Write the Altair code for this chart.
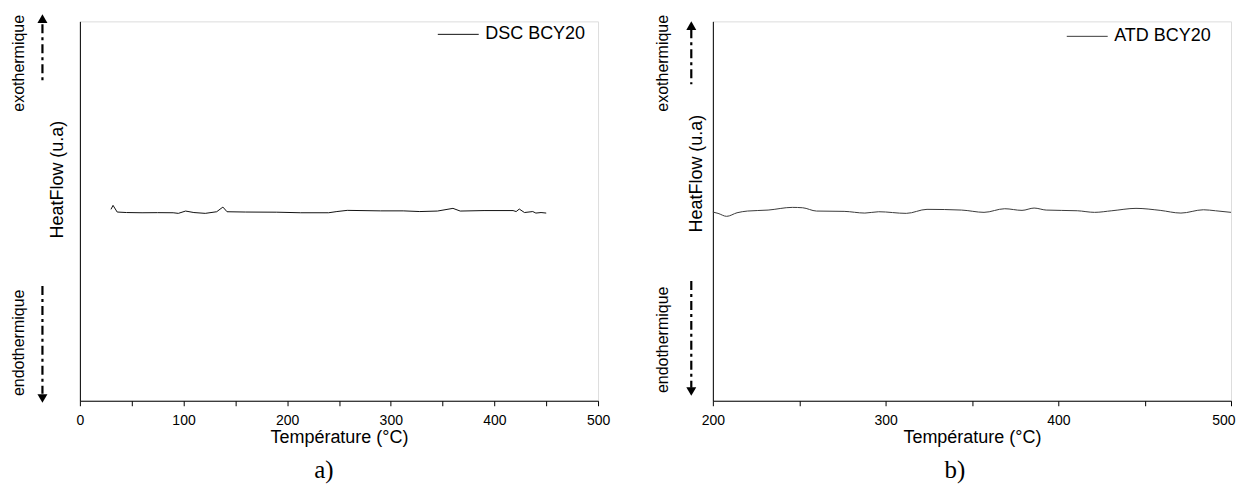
import altair as alt
import pandas as pd

# ---- data ----
dsc_temp = [30, 32, 36, 45, 60, 75, 90, 95, 102, 110, 121, 132, 138, 142, 160, 190,
            213, 240, 248, 258, 290, 312, 328, 345, 360, 367, 390, 418, 421, 424,
            429, 437, 440, 445, 450]
dsc_heat = [50.45, 51.50, 49.74, 49.61, 49.55, 49.58, 49.55, 49.39, 50.00, 49.61,
            49.39, 49.82, 51.05, 49.82, 49.74, 49.70, 49.55, 49.55, 49.87, 50.18,
            50.05, 50.05, 49.87, 50.00, 50.71, 50.00, 50.13, 50.13, 49.87, 50.53,
            49.61, 49.87, 49.47, 49.61, 49.47]

atd_temp = [200, 203, 208, 214, 220, 232, 246, 252, 260, 276, 288, 296, 312, 324,
            344, 357, 369, 379, 386, 393, 411, 421, 431, 445, 459, 471, 484, 491, 500]
atd_heat = [49.74, 49.39, 48.61, 49.55, 50.00, 50.26, 50.97, 50.87, 50.00, 49.92,
            49.47, 49.82, 49.39, 50.45, 50.26, 49.66, 50.61, 50.18, 50.79, 50.26,
            50.08, 49.66, 50.08, 50.71, 50.18, 49.47, 50.34, 50.08, 49.66]

ticks_a = [0, 50, 100, 150, 200, 250, 300, 350, 400, 450, 500]
ticks_b = [200, 250, 300, 350, 400, 450, 500]

series_a = "DSC BCY20"
series_b = "ATD BCY20"

FONT = "Liberation Sans"
SERIF = "Liberation Serif"
DASH = [9, 4, 3, 4]


def panel(temp, heat, series, color, xdom, xticks, leg_x, leg_y, interp,
          tag, tag_dx, yt_x, yt_y, arrow_x, exo_x, exo_y, endo_y,
          exo_rule, exo_head, endo_rule, endo_head, right_end):
    df = pd.DataFrame({"T": temp, "H": heat, "S": series})
    x_axis = dict(
        values=xticks,
        labelExpr="datum.value % 100 == 0 ? datum.label : ''",
        title="Température (°C)",
        titleFont=FONT, titleFontSize=18, titleFontWeight="normal", titleColor="black",
        titleY=37, titleBaseline="middle",
        labelFont=FONT, labelFontSize=14, labelColor="black", labelPadding=8,
        labelFlush=False, labelOverlap=False,
        tickSize=5, tickColor="black", domainColor="black", grid=False,
    )
    if right_end:
        x_axis["labelAlign"] = {"condition": {"test": "datum.value == 500", "value": "right"}, "value": "center"}
        x_axis["labelOffset"] = {"condition": {"test": "datum.value == 500", "value": 4}, "value": 0}
    line = alt.Chart(df).mark_line(strokeWidth=1, interpolate=interp).encode(
        x=alt.X("T:Q", scale=alt.Scale(domain=xdom, nice=False, zero=False),
                axis=alt.Axis(**x_axis)),
        y=alt.Y("H:Q", scale=alt.Scale(domain=[0, 100]),
                axis=alt.Axis(title="HeatFlow (u.a)", labels=False, ticks=False, grid=False,
                              domainColor="black", titleFont=FONT, titleFontSize=18,
                              titleFontWeight="normal", titleColor="black",
                              titleX=yt_x, titleY=yt_y, titleAngle=270,
                              titleAlign="center", titleBaseline="middle")),
        color=alt.Color("S:N", scale=alt.Scale(domain=[series], range=[color]),
                        legend=alt.Legend(title=None, orient="none", legendX=leg_x, legendY=leg_y,
                                          symbolType="stroke", symbolSize=1681,
                                          symbolStrokeWidth=1, labelFont=FONT,
                                          labelFontSize=18, labelColor="black",
                                          labelOffset=6, padding=0, labelLimit=0)),
    )
    exo = alt.Chart(pd.DataFrame({"t": ["exothermique"]})).mark_text(
        angle=270, font=FONT, fontSize=16, align="center", baseline="middle", color="black"
    ).encode(text="t:N", x=alt.value(exo_x), y=alt.value(exo_y))
    endo = alt.Chart(pd.DataFrame({"t": ["endothermique"]})).mark_text(
        angle=270, font=FONT, fontSize=16, align="center", baseline="middle", color="black"
    ).encode(text="t:N", x=alt.value(exo_x), y=alt.value(endo_y))
    one = pd.DataFrame({"k": [0]})
    r1 = alt.Chart(one).mark_rule(strokeDash=DASH, strokeWidth=2.2, color="black").encode(
        x=alt.value(arrow_x), y=alt.value(exo_rule[0]), y2=alt.value(exo_rule[1]))
    h1 = alt.Chart(one).mark_point(shape="triangle-up", filled=True, size=100, color="black",
                                   opacity=1).encode(x=alt.value(arrow_x), y=alt.value(exo_head))
    r2 = alt.Chart(one).mark_rule(strokeDash=DASH, strokeWidth=2.2, color="black").encode(
        x=alt.value(arrow_x), y=alt.value(endo_rule[0]), y2=alt.value(endo_rule[1]))
    h2 = alt.Chart(one).mark_point(shape="triangle-down", filled=True, size=100, color="black",
                                   opacity=1).encode(x=alt.value(arrow_x), y=alt.value(endo_head))
    return alt.layer(line, exo, endo, r1, h1, r2, h2).properties(
        width=519, height=380,
        title=alt.TitleParams(tag, orient="bottom", anchor="middle", frame="group",
                              font=SERIF, fontSize=25, fontWeight="normal", color="black",
                              dx=tag_dx, offset=11),
    )


left = panel(dsc_temp, dsc_heat, series_a, "#111111", [0, 500], ticks_a, 358, -8, "linear",
             "a)", -15, -22, 158, -37.5, -61, 42, 322,
             (3, 60), -2.7, (265, 373), 377.7, False)
right = panel(atd_temp, atd_heat, series_b, "#3a3a3a", [200, 500], ticks_b, 354, -6, "monotone",
              "b)", -17, -16.6, 152, -21.6, -50, 42, 319,
              (8, 63), 4.3, (260, 367), 370.7, True)

chart = alt.hconcat(left, right, spacing=115, bounds="flush").resolve_scale(
    color="independent", x="independent", y="independent"
).properties(
    padding={"left": 2, "top": 4, "right": 0, "bottom": 0}
).configure_view(stroke=None).configure(background="white")

chart.save("out.html", embed_options={"renderer": "svg", "actions": False})
